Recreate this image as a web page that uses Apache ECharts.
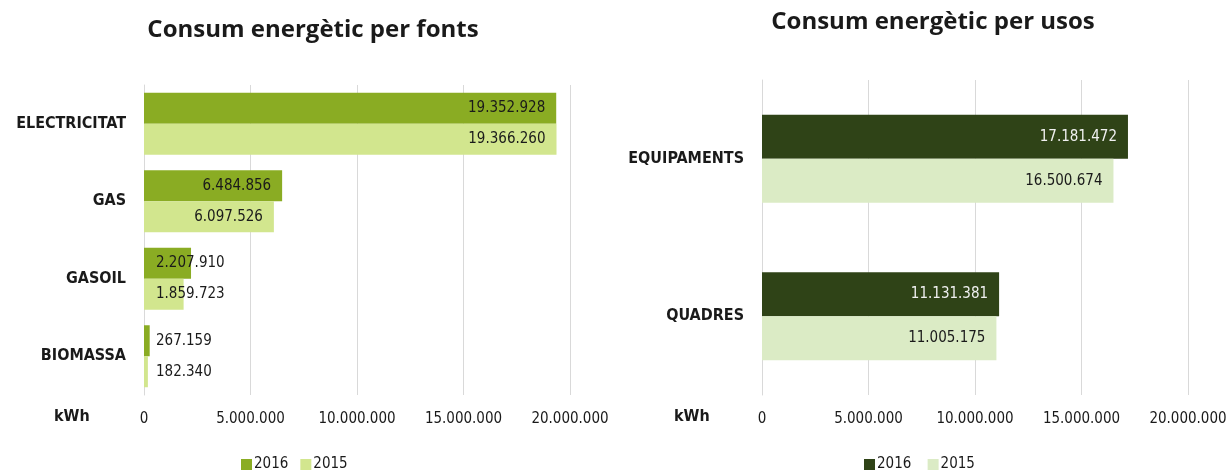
<!DOCTYPE html>
<html><head><meta charset="utf-8">
<script src="https://cdn.jsdelivr.net/npm/echarts@6/dist/echarts.min.js"></script>
<style>html,body{margin:0;padding:0;background:#fff}#c{width:1230px;height:472px}</style>
</head><body><div id="c"></div>
<script>
const fontsCats = ['ELECTRICITAT', 'GAS', 'GASOIL', 'BIOMASSA'];
const fonts2016 = [19352928, 6484856, 2207910, 267159];
const fonts2015 = [19366260, 6097526, 1859723, 182340];
const usosCats = ['EQUIPAMENTS', 'QUADRES'];
const usos2016 = [17181472, 11131381];
const usos2015 = [16500674, 11005175];
const seriesNames = ['2016', '2015'];
const titles = ['Consum energètic per fonts', 'Consum energètic per usos'];
const unitLabel = 'kWh';

const FONT = '"DejaVu Sans Condensed", "DejaVu Sans", sans-serif';
const TFONT = '"Open Sans", sans-serif';
function fmt(v){ return String(Math.round(v)).replace(/\B(?=(\d{3})+(?!\d))/g, '.'); }

function mkData(vals){
  return vals.map(v => {
    const small = v < 3000000;
    return { value: v, label: small ? {position:'insideLeft', distance: 12, color:'#1a1a1a'} : {} };
  });
}

const chart = echarts.init(document.getElementById('c'));
const xBase = (idx) => ({
  type:'value', gridIndex: idx, min:0, max:20000000, interval:5000000,
  axisLine:{show:false}, axisTick:{show:false},
  splitLine:{lineStyle:{color:'#d9d9d9', width:1}},
  axisLabel:{formatter: fmt, color:'#1a1a1a', fontSize:15, fontFamily:FONT, margin:17}
});
const yBase = (idx, cats) => ({
  type:'category', gridIndex: idx, data: cats, inverse:true,
  axisLine:{show:true, lineStyle:{color:'#d9d9d9'}}, axisTick:{show:false},
  axisLabel:{color:'#1a1a1a', fontSize:16, fontWeight:'bold', fontFamily:FONT, margin:18}
});
const lbl = (color) => ({show:true, position:'insideRight', distance:11, color: color, fontSize:15, fontFamily:FONT, formatter: p => fmt(p.value)});

chart.setOption({
  animation:false,
  title:[
    {text: titles[0], left: 308, top: 13, textAlign:'center', textStyle:{fontSize:24, fontWeight:'bold', color:'#1a1a1a', fontFamily:TFONT}},
    {text: titles[1], left: 928, top: 5, textAlign:'center', textStyle:{fontSize:24, fontWeight:'bold', color:'#1a1a1a', fontFamily:TFONT}}
  ],
  grid:[
    {left:144, top:85, width:426, height:310},
    {left:762, top:80, width:426, height:315}
  ],
  xAxis:[xBase(0), xBase(1)],
  yAxis:[yBase(0, fontsCats), yBase(1, usosCats)],
  legend:[
    {data:[{name:'2016', itemStyle:{color:'#8AAC23'}},{name:'2015', itemStyle:{color:'#D2E68E'}}], left:236, top:452, itemWidth:11, itemHeight:11, itemGap:12,
     textStyle:{fontSize:15, color:'#1a1a1a', fontFamily:FONT, padding:[0,0,0,-3]}, icon:'rect'},
    {data:[{name:'2016 ', itemStyle:{color:'#2F4317'}},{name:'2015 ', itemStyle:{color:'#DBEBC5'}}], left:859, top:452, itemWidth:11, itemHeight:11, itemGap:12,
     textStyle:{fontSize:15, color:'#1a1a1a', fontFamily:FONT, padding:[0,0,0,-3]}, icon:'rect'}
  ],
  graphic:[
    {type:'text', left:54, top:409, style:{text:unitLabel, fontSize:16, fontWeight:'bold', fill:'#1a1a1a', fontFamily:FONT}},
    {type:'text', left:674, top:409, style:{text:unitLabel, fontSize:16, fontWeight:'bold', fill:'#1a1a1a', fontFamily:FONT}}
  ],
  series:[
    {name:seriesNames[0], type:'bar', xAxisIndex:0, yAxisIndex:0, data: mkData(fonts2016), barGap:'0%', barCategoryGap:'20%',
     itemStyle:{color:'#8AAC23'}, label: lbl('#1a1a1a')},
    {name:seriesNames[1], type:'bar', xAxisIndex:0, yAxisIndex:0, data: mkData(fonts2015), barGap:'0%', barCategoryGap:'20%',
     itemStyle:{color:'#D2E68E'}, label: lbl('#1a1a1a')},
    {name:seriesNames[0]+' ', type:'bar', xAxisIndex:1, yAxisIndex:1, data: usos2016, barGap:'0%', barCategoryGap:'44%',
     itemStyle:{color:'#2F4317'}, label: lbl('#f0f0f0')},
    {name:seriesNames[1]+' ', type:'bar', xAxisIndex:1, yAxisIndex:1, data: usos2015, barGap:'0%', barCategoryGap:'44%',
     itemStyle:{color:'#DBEBC5'}, label: lbl('#1a1a1a')}
  ]
});
</script></body></html>
